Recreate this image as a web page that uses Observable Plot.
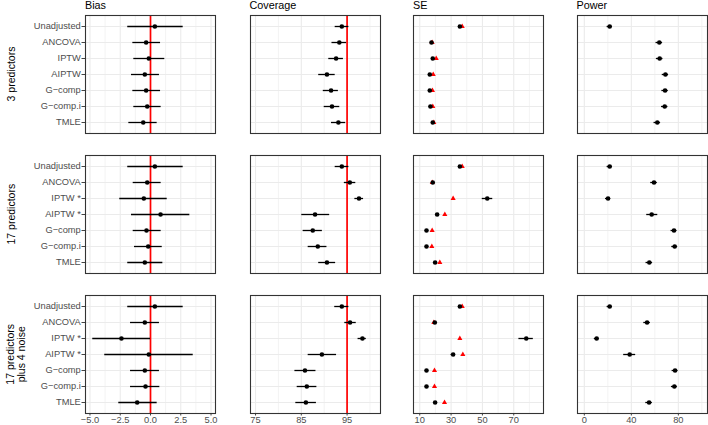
<!DOCTYPE html>
<html><head><meta charset="utf-8">
<script src="https://cdn.jsdelivr.net/npm/d3@7"></script>
<script src="https://cdn.jsdelivr.net/npm/@observablehq/plot@0.6"></script>
<style>
body{margin:0;background:#fff;}
#chart{position:relative;width:708px;height:425px;font-family:"Liberation Sans",Arial,sans-serif;overflow:hidden;}
#chart svg{position:absolute;}
</style></head><body><div id="chart"></div>
<script>
// ---- categories & labels ----
const methods = ["Unadjusted","ANCOVA","IPTW","AIPTW","G-comp","G-comp.i","TMLE"];
const methodLabels1 = ["Unadjusted","ANCOVA","IPTW","AIPTW","G\u2212comp","G\u2212comp.i","TMLE"];
const methodLabels2 = ["Unadjusted","ANCOVA","IPTW *","AIPTW *","G\u2212comp","G\u2212comp.i","TMLE"];
const methodLabels3 = ["Unadjusted","ANCOVA","IPTW *","AIPTW *","G\u2212comp","G\u2212comp.i","TMLE"];
const rowTitles = [["3 predictors"],["17 predictors"],["17 predictors","plus 4 noise"]];
const colTitles = ["Bias","Coverage","SE","Power"];

// ---- tick values ----
const biasTicks = [-5,-2.5,0,2.5,5], biasMinor = [-3.75,-1.25,1.25,3.75];
const covTicks = [75,85,95], covMinor = [80,90,100];
const seTicks = [10,30,50,70], seMinor = [20,40,60,80];
const powTicks = [0,40,80], powMinor = [20,60,100];
const biasRef = [0], covRef = [95];

// ---- Bias ----
const bias1 = [0.36,-0.36,-0.14,-0.47,-0.36,-0.27,-0.60];
const bias1Lo = [-1.88,-1.46,-1.38,-1.57,-1.46,-1.38,-1.79];
const bias1Hi = [2.70,0.83,1.18,0.74,0.83,0.88,0.55];
const bias2 = [0.36,-0.27,-0.55,0.83,-0.33,-0.19,-0.47];
const bias2Lo = [-1.88,-1.43,-2.54,-1.57,-1.43,-1.32,-1.88];
const bias2Hi = [2.70,0.88,1.38,3.25,0.88,0.97,1.02];
const bias3 = [0.36,-0.47,-2.40,-0.14,-0.47,-0.41,-1.10];
const bias3Lo = [-1.88,-1.65,-4.77,-3.78,-1.65,-1.65,-2.62];
const bias3Hi = [2.70,0.74,0.00,3.53,0.74,0.77,0.55];

// ---- Coverage ----
const cov1 = [93.85,93.3,92.6,90.6,91.5,91.7,93.1];
const cov1Lo = [92.4,91.7,91.0,88.8,89.8,90.0,91.6];
const cov1Hi = [95.4,94.9,94.2,92.4,93.1,93.4,94.7];
const cov2 = [93.85,95.6,97.6,88.0,87.5,88.6,90.6];
const cov2Lo = [92.4,94.4,96.7,85.1,85.4,86.5,88.8];
const cov2Hi = [95.4,96.9,98.6,91.2,89.6,90.6,92.5];
const cov3 = [93.85,95.65,98.35,89.5,85.8,86.2,86.0];
const cov3Lo = [92.3,94.5,97.4,86.5,83.6,84.1,83.8];
const cov3Hi = [95.4,97.0,99.2,92.7,88.2,88.4,88.3];

// ---- SE (empirical, black; model-based, red) ----
const se1 = [35.6,17.5,18.3,16.4,16.4,16.8,18.3];
const se1Lo = [34.8,17.0,17.7,15.9,15.9,16.3,17.7];
const se1Hi = [36.4,18.0,18.9,16.9,16.9,17.3,18.9];
const se1Model = [37.1,17.9,20.5,18.6,18.1,18.3,19.0];
const se2 = [35.6,18.3,53.1,21.1,14.3,14.3,19.8];
const se2Lo = [34.8,17.8,49.9,20.3,13.8,13.8,19.2];
const se2Hi = [36.4,18.8,56.6,21.9,14.8,14.8,20.4];
const se2Model = [37.1,18.0,31.3,26.0,17.9,17.7,22.8];
const se3 = [35.6,19.6,78.0,31.3,14.3,14.3,19.8];
const se3Lo = [34.8,19.0,73.3,30.0,13.8,13.8,19.2];
const se3Hi = [36.4,20.2,82.5,32.6,14.8,14.8,20.4];
const se3Model = [37.1,19.0,35.6,37.5,19.4,19.4,25.8];

// ---- Power ----
const pow1 = [21.6,63.8,64.1,69.0,68.7,68.4,62.1];
const pow1Lo = [19.4,61.0,61.3,66.3,66.0,65.7,59.3];
const pow1Hi = [23.8,66.6,66.9,71.7,71.4,71.1,64.9];
const pow2 = [21.6,59.3,20.2,57.3,76.3,76.9,55.3];
const pow2Lo = [19.4,56.5,18.0,53.1,73.8,74.4,52.5];
const pow2Hi = [23.8,62.1,22.4,62.5,78.8,79.4,58.1];
const pow3 = [21.6,53.4,10.5,38.6,77.2,76.6,55.1];
const pow3Lo = [19.4,50.6,8.5,33.5,74.7,74.1,52.3];
const pow3Hi = [23.8,56.2,12.5,43.7,79.7,79.1,57.9];

// ---- assemble ----
const labelsByRow = [methodLabels1, methodLabels2, methodLabels3];
const table = (est, lo, hi, model) => methods.map((m,i) => ({m, est: est[i], lo: lo[i], hi: hi[i], model: model ? model[i] : null}));
const panels = [
  [table(bias1,bias1Lo,bias1Hi), table(cov1,cov1Lo,cov1Hi), table(se1,se1Lo,se1Hi,se1Model), table(pow1,pow1Lo,pow1Hi)],
  [table(bias2,bias2Lo,bias2Hi), table(cov2,cov2Lo,cov2Hi), table(se2,se2Lo,se2Hi,se2Model), table(pow2,pow2Lo,pow2Hi)],
  [table(bias3,bias3Lo,bias3Hi), table(cov3,cov3Lo,cov3Hi), table(se3,se3Lo,se3Hi,se3Model), table(pow3,pow3Lo,pow3Hi)]
];
const cols = [
  {left:85,    domain:[-5.37,5.37], ticks:biasTicks, minor:biasMinor, fmt:d3.format(".1f"), ref:biasRef},
  {left:249.5, domain:[73.9,102.3], ticks:covTicks,  minor:covMinor,  fmt:d3.format("d"),   ref:covRef},
  {left:413,   domain:[6,89],       ticks:seTicks,   minor:seMinor,   fmt:d3.format("d"),   ref:null, model:true},
  {left:576.5, domain:[-5.8,104.8], ticks:powTicks,  minor:powMinor,  fmt:d3.format("d"),   ref:null}
];
const rowTops = [15, 155.2, 295.3];
const PW = 130, PH = 118;
const chart = document.getElementById("chart");
const grid = "#ebebeb";

rowTops.forEach((top, r) => {
  cols.forEach((c, ci) => {
    const mL = ci === 0 ? 85 : 1, mR = 1, mT = 1, mB = r === 2 ? 13 : 1;
    const data = panels[r][ci];
    const labs = labelsByRow[r];
    const marks = [
      Plot.ruleX(c.minor, {stroke: grid, strokeWidth: 0.6}),
      Plot.ruleX(c.ticks, {stroke: grid, strokeWidth: 1.1}),
      Plot.ruleY(methods, {stroke: grid, strokeWidth: 1.1})
    ];
    if (c.ref) marks.push(Plot.ruleX(c.ref, {stroke: "#ff0000", strokeWidth: 1.7}));
    marks.push(Plot.ruleY(data, {y: "m", x1: "lo", x2: "hi", stroke: "black", strokeWidth: 1.3}));
    if (c.model) marks.push(Plot.dot(data, {x: "model", y: "m", symbol: "triangle", r: 1.9, fill: "#ff0000", stroke: null}));
    marks.push(Plot.dot(data, {x: "est", y: "m", r: 2.3, fill: "black", stroke: null}));
    if (ci === 0) marks.push(Plot.axisY({tickSize: 3.5, tickPadding: 1.2, color: "#444", fill: "#4d4d4d", label: null,
      tickFormat: d => labs[methods.indexOf(d)], fontSize: 9.3}));
    if (r === 2) marks.push(Plot.axisX({ticks: c.ticks, tickSize: 2.5, tickPadding: 0.5, tickFormat: c.fmt, color: "#444", fill: "#4d4d4d", fontSize: 9.3, label: null}));
    marks.push(Plot.frame({stroke: "#333", strokeWidth: 1.1}));
    const svg = Plot.plot({
      width: mL + PW + mR, height: mT + PH + mB,
      marginLeft: mL, marginRight: mR, marginTop: mT, marginBottom: mB,
      x: {domain: c.domain, axis: null, label: null},
      y: {type: "point", domain: methods, padding: 0.6, axis: null, label: null},
      style: {fontFamily: "'Liberation Sans', Arial, sans-serif", fontSize: "9.3px", background: "transparent", overflow: "visible"},
      marks
    });
    svg.style.left = (c.left - mL) + "px";
    svg.style.top = (top - mT) + "px";
    chart.appendChild(svg);
  });
});

// ---- titles & row labels ----
const ov = d3.select(chart).append("svg").attr("width", 708).attr("height", 425)
  .style("left", "0px").style("top", "0px").style("pointer-events", "none")
  .style("font-family", "'Liberation Sans', Arial, sans-serif");
cols.forEach((c, ci) => {
  ov.append("text").attr("x", c.left).attr("y", 9).attr("font-size", 10.8).attr("fill", "black").text(colTitles[ci]);
});
rowTops.forEach((top, r) => {
  const lines = rowTitles[r];
  const cy = top + PH / 2;
  const xs = lines.length === 1 ? [14.5] : [13.5, 25];
  lines.forEach((t, li) => {
    ov.append("text").attr("transform", `translate(${xs[li]},${cy}) rotate(-90)`)
      .attr("text-anchor", "middle").attr("font-size", 10.5).attr("fill", "black").text(t);
  });
});
</script></body></html>
